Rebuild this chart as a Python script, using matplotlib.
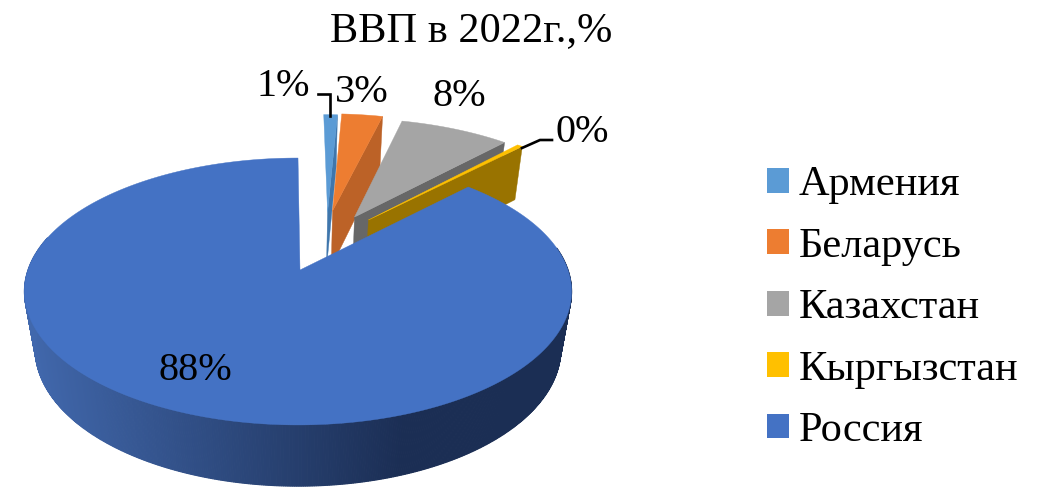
import numpy as np
import matplotlib
matplotlib.use('Agg')
import matplotlib.pyplot as plt
import matplotlib.patches as mpatches
from matplotlib.colors import to_rgb

plt.rcParams['font.family'] = ['Liberation Serif', 'DejaVu Serif']

# Данные
title = "ВВП в 2022г.,%"
countries = ["Армения", "Беларусь", "Казахстан", "Кыргызстан", "Россия"]
gdp_share = [1.0, 3.0, 8.0, 0.4, 87.6]

colors = ["#5B9BD5", "#ED7D31", "#A5A5A5", "#FFC000", "#4472C4"]
side_colors = ["#3F76AC", "#BC6227", "#676767", "#997300"]

# Вынос секторов (в единицах радиуса диска)
explode_x = [0.118, 0.138, 0.224, 0.278, 0.0]
explode_y = [0.48, 0.49, 0.436, 0.41, 0.0]

# Подписи долей: центр текста в пикселях
label_pos = [(283, 87), (362, 93), (459, 97), (582, 133), (195, 370)]

# Перспектива
CX, CY = 298, 270
APEX_X = 300
R, Q, K = 270, 130, 0.161
H, M = 60, 0.04


def project(x, y, z=0.0):
    w = 1 + K * y + M * z
    return CX + R * x / w, CY - Q * y / w + H * z / w


def rim(i, t1, t2, n=80):
    t = np.radians(np.linspace(t1, t2, n))
    return explode_x[i] + np.sin(t), explode_y[i] + np.cos(t)


fig = plt.figure(figsize=(10.43, 4.88), dpi=100)
ax = fig.add_axes([0, 0, 1, 1])
ax.set_xlim(0, 1043)
ax.set_ylim(488, 0)
ax.set_axis_off()

edges = np.cumsum([0] + gdp_share) * 3.6

# Вынесенные секторы: сначала внутренняя грань, потом верх
for i in range(4):
    xs, ys = rim(i, edges[i], edges[i + 1])
    ax0, ay0 = explode_x[i], explode_y[i]
    face = [project(ax0, ay0), project(xs[-1], ys[-1]),
            project(xs[-1], ys[-1], 1), project(ax0, ay0, 1)]
    ax.add_patch(mpatches.Polygon(face, closed=True, facecolor=side_colors[i],
                                  edgecolor=side_colors[i], linewidth=0.3))
    px, py = project(xs, ys)
    ax0s, ay0s = project(ax0, ay0)
    top = np.column_stack([np.r_[ax0s, px], np.r_[ay0s, py]])
    ax.add_patch(mpatches.Polygon(top, closed=True, facecolor=colors[i],
                                  edgecolor=colors[i], linewidth=0.3))

# Россия: боковая стенка полосками с градиентом
t = np.radians(np.linspace(80, 285, 500))
xt, yt = np.sin(t), np.cos(t)
tx, ty = project(xt, yt)
bx, by = project(xt, yt, 1)
light = np.array(to_rgb("#4269AE"))
dark = np.array(to_rgb("#1B2E54"))
for j in range(len(t) - 1):
    f = np.clip((bx[j] - 30) / 370, 0, 1)
    c = light + (dark - light) * f
    strip = [(tx[j], ty[j]), (tx[j + 1], ty[j + 1]), (bx[j + 1], by[j + 1]), (bx[j], by[j])]
    ax.add_patch(mpatches.Polygon(strip, closed=True, facecolor=c, edgecolor=c, linewidth=0.8))

xs, ys = rim(4, edges[4], edges[5], n=400)
px, py = project(xs, ys)
top = np.column_stack([np.r_[APEX_X, px], np.r_[CY, py]])
ax.add_patch(mpatches.Polygon(top, closed=True, facecolor=colors[4], edgecolor=colors[4], linewidth=0.3))

# Выноски
ax.plot([330, 330, 318], [116, 94, 94], color='black', lw=1.9, solid_joinstyle='miter')
ax.plot([522, 540, 552], [148, 140, 140], color='black', lw=1.9, solid_joinstyle='miter')

# Подписи
for v, (lx, ly) in zip(gdp_share, label_pos):
    ax.text(lx, ly, f"{v:.0f}%", fontsize=29, color='black', ha='center', va='center')

ax.text(471, 31, title, fontsize=30.5, color='black', ha='center', va='center')

# Легенда
handles = [mpatches.Patch(facecolor=c, edgecolor='none', label=n) for c, n in zip(colors, countries)]
ax.legend(handles=handles, loc='center left', bbox_to_anchor=(0.735, 0.369), frameon=False,
          fontsize=30.5, handlelength=0.52, handleheight=0.52, handletextpad=0.24,
          labelspacing=0.54, borderpad=0, borderaxespad=0)

fig.savefig('out.png', dpi=100, facecolor='white')
